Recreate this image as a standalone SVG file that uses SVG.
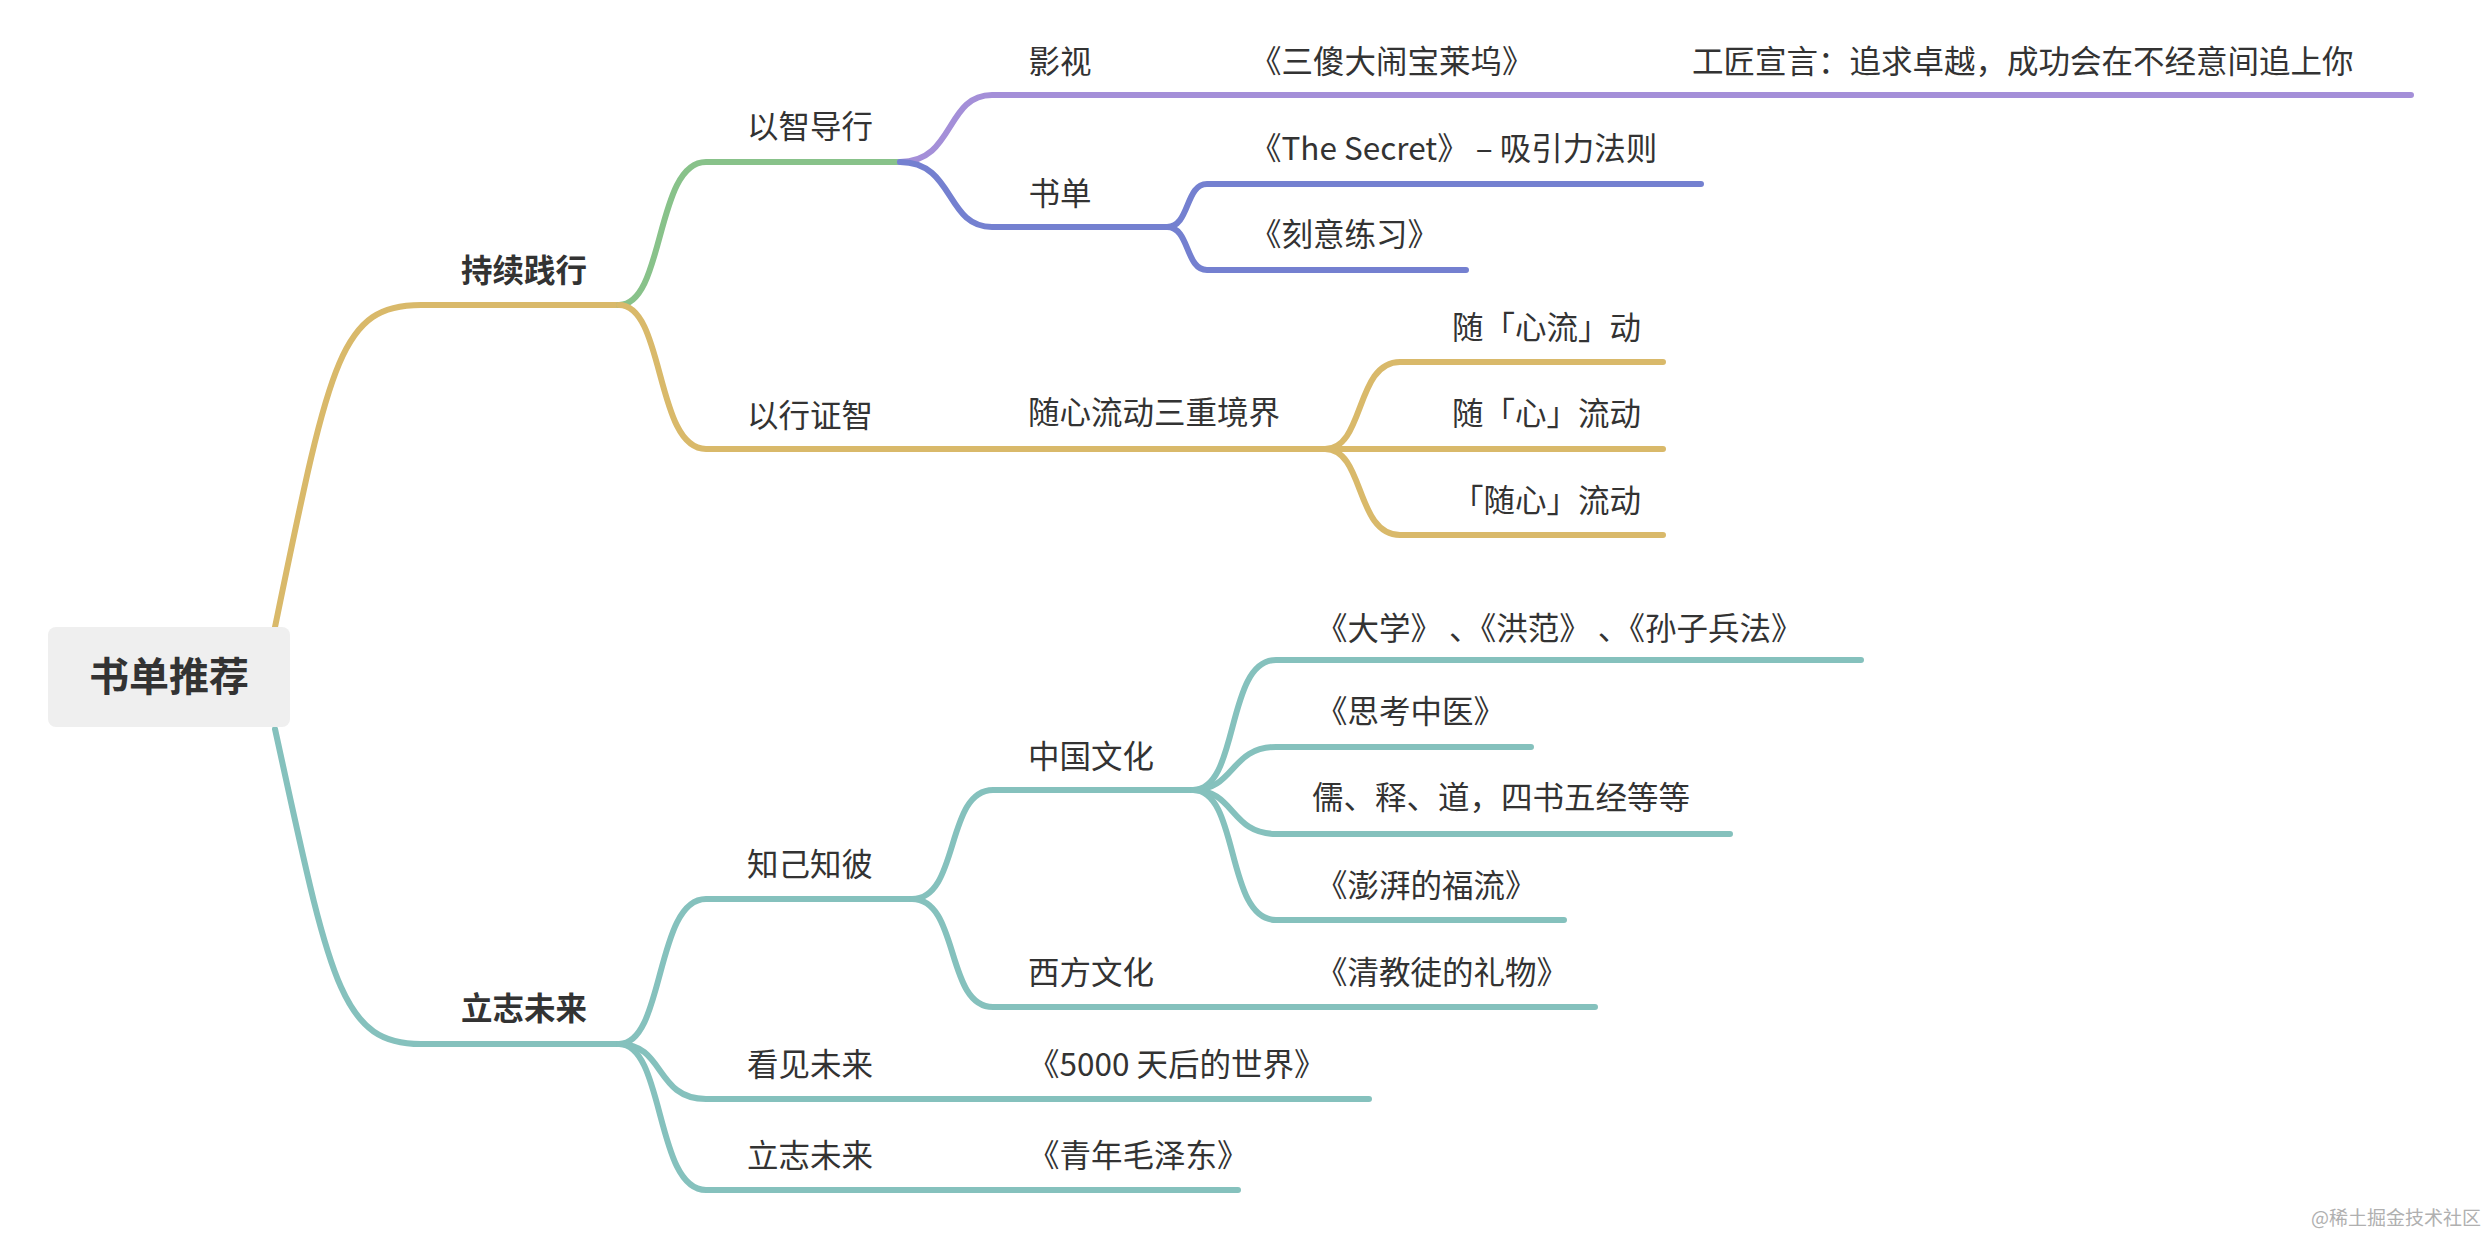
<svg xmlns="http://www.w3.org/2000/svg" width="2488" height="1234" viewBox="0 0 2488 1234">
<style>
text{font-family:"Noto Sans CJK SC","Liberation Sans",sans-serif;font-size:31.5px;fill:#333}
.b{font-weight:600}
.c{fill:none;stroke-width:6;stroke-linecap:round}
.y{stroke:#d9b96a}.g{stroke:#88c28a}.p{stroke:#a48fd8}.u{stroke:#7480d0}.t{stroke:#85c1bd}
</style>
<rect width="2488" height="1234" fill="#fff"/>
<g id="connectors">
<path class="c y" d="M275,627 C330,360 340,305 421,305 H619"/>
<path class="c t" d="M275,729 C330,980 340,1044 421,1044 H619"/>
<path class="c g" d="M619,305 C665,305 655,162 706,162 H900"/>
<path class="c y" d="M619,305 C665,305 655,449 706,449 H1325"/>
<path class="c p" d="M900,162 C955,162 945,95 992,95 H2411"/>
<path class="c u" d="M900,162 C955,162 945,227 992,227 H1167"/>
<path class="c u" d="M1167,227 C1190,227 1185,184 1207,184 H1701"/>
<path class="c u" d="M1167,227 C1190,227 1185,270 1207,270 H1466"/>
<path class="c y" d="M1325,449 C1365,449 1355,362 1400,362 H1663"/>
<path class="c y" d="M1325,449 H1663"/>
<path class="c y" d="M1325,449 C1365,449 1355,535 1400,535 H1663"/>
<path class="c t" d="M619,1044 C665,1044 655,899 706,899 H912"/>
<path class="c t" d="M619,1044 C665,1044 655,1099 706,1099 H1369"/>
<path class="c t" d="M619,1044 C665,1044 655,1190 706,1190 H1238"/>
<path class="c t" d="M912,899 C960,899 945,790 993,790 H1193"/>
<path class="c t" d="M912,899 C960,899 945,1007 993,1007 H1595"/>
<path class="c t" d="M1193,790 C1240,790 1225,660 1276,660 H1861"/>
<path class="c t" d="M1193,790 C1235,790 1230,747 1276,747 H1531"/>
<path class="c t" d="M1193,790 C1235,790 1230,834 1276,834 H1730"/>
<path class="c t" d="M1193,790 C1240,790 1225,920 1276,920 H1564"/>
</g>
<g id="root"><rect x="48" y="627" width="242" height="100" rx="8" fill="#efefef"/><text x="169" y="691" text-anchor="middle" style="font-size:40px" class="b">书单推荐</text></g>
<g id="n1"><text x="524" y="282" text-anchor="middle" class="b">持续践行</text></g>
<g id="n2"><text x="810" y="138" text-anchor="middle">以智导行</text></g>
<g id="n3"><text x="1060" y="73" text-anchor="middle">影视</text></g>
<g id="n4"><text x="1250" y="73">《三傻大闹宝莱坞》</text></g>
<g id="n5"><text x="1692" y="73">工匠宣言：追求卓越，成功会在不经意间追上你</text></g>
<g id="n6"><text x="1060" y="205" text-anchor="middle">书单</text></g>
<g id="n7"><text x="1250" y="160">《The Secret》 – 吸引力法则</text></g>
<g id="n8"><text x="1250" y="246">《刻意练习》</text></g>
<g id="n9"><text x="810" y="427" text-anchor="middle">以行证智</text></g>
<g id="n10"><text x="1028" y="424">随心流动三重境界</text></g>
<g id="n11"><text x="1641" y="339" text-anchor="end">随「心流」动</text></g>
<g id="n12"><text x="1641" y="425" text-anchor="end">随「心」流动</text></g>
<g id="n13"><text x="1641" y="512" text-anchor="end">「随心」流动</text></g>
<g id="n14"><text x="524" y="1020" text-anchor="middle" class="b">立志未来</text></g>
<g id="n15"><text x="810" y="876" text-anchor="middle">知己知彼</text></g>
<g id="n16"><text x="1028" y="768">中国文化</text></g>
<g id="n17"><text x="1316" y="640">《大学》 、《洪范》 、《孙子兵法》</text></g>
<g id="n18"><text x="1316" y="723">《思考中医》</text></g>
<g id="n19"><text x="1312" y="809">儒、释、道，四书五经等等</text></g>
<g id="n20"><text x="1316" y="897">《澎湃的福流》</text></g>
<g id="n21"><text x="1028" y="984">西方文化</text></g>
<g id="n22"><text x="1316" y="984">《清教徒的礼物》</text></g>
<g id="n23"><text x="810" y="1076" text-anchor="middle">看见未来</text></g>
<g id="n24"><text x="1028" y="1076">《5000 天后的世界》</text></g>
<g id="n25"><text x="810" y="1167" text-anchor="middle">立志未来</text></g>
<g id="n26"><text x="1028" y="1167">《青年毛泽东》</text></g>
<text x="2481" y="1225" text-anchor="end" style="font-size:19px;fill:#b0b0b0">@稀土掘金技术社区</text>
</svg>
